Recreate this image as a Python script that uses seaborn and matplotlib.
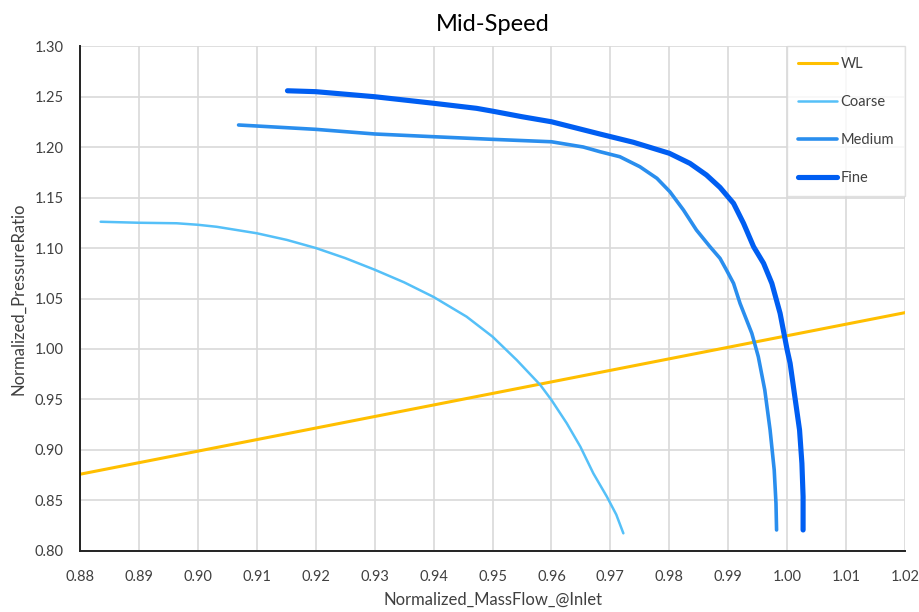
import matplotlib
matplotlib.use("Agg")
import matplotlib.pyplot as plt
import seaborn as sns
import pandas as pd

# Working line
wl_x = [0.880, 1.020]
wl_y = [0.876, 1.036]

# Coarse mesh speedline
coarse_x = [0.8835, 0.890, 0.8964, 0.900, 0.9032, 0.910, 0.9151, 0.920, 0.925,
            0.930, 0.935, 0.940, 0.9456, 0.950, 0.9541, 0.9581, 0.960, 0.9626,
            0.9649, 0.9671, 0.9694, 0.9710, 0.9722]
coarse_y = [1.126, 1.125, 1.1245, 1.123, 1.121, 1.1146, 1.108, 1.100, 1.090,
            1.0785, 1.066, 1.0515, 1.032, 1.0122, 0.9891, 0.9644, 0.9495,
            0.9264, 0.9033, 0.8769, 0.8538, 0.836, 0.8175]

# Medium mesh speedline
medium_x = [0.9069, 0.910, 0.920, 0.930, 0.940, 0.950, 0.960, 0.9654, 0.9682,
            0.9716, 0.975, 0.9779, 0.9801, 0.9824, 0.9846, 0.9869, 0.9886,
            0.9897, 0.9909, 0.992, 0.9940, 0.9951, 0.9962, 0.9971, 0.9978,
            0.9981, 0.9982]
medium_y = [1.2218, 1.2208, 1.2175, 1.2129, 1.2102, 1.2076, 1.2052, 1.2000,
            1.1954, 1.1904, 1.1805, 1.169, 1.1557, 1.1376, 1.1178, 1.1013,
            1.0898, 1.0782, 1.065, 1.0452, 1.0155, 0.9924, 0.9594, 0.9198,
            0.8802, 0.8472, 0.8208]

# Fine mesh speedline
fine_x = [0.9152, 0.920, 0.930, 0.940, 0.9473, 0.950, 0.955, 0.960, 0.9682,
          0.9739, 0.980, 0.9835, 0.9863, 0.9886, 0.9909, 0.9926, 0.9943,
          0.9960, 0.9974, 0.9988, 1.0000, 1.0005, 1.0013, 1.0021, 1.0025,
          1.0027, 1.0027]
fine_y = [1.2557, 1.2548, 1.2498, 1.2433, 1.2383, 1.2355, 1.230, 1.225, 1.2129,
          1.2047, 1.1938, 1.1838, 1.1723, 1.160, 1.1442, 1.1244, 1.1013,
          1.0848, 1.065, 1.0353, 0.999, 0.9858, 0.9528, 0.9198, 0.8868,
          0.8538, 0.8208]

x_ticks = [0.88, 0.89, 0.90, 0.91, 0.92, 0.93, 0.94, 0.95, 0.96, 0.97, 0.98,
           0.99, 1.00, 1.01, 1.02]
y_ticks = [0.80, 0.85, 0.90, 0.95, 1.00, 1.05, 1.10, 1.15, 1.20, 1.25, 1.30]

sns.set_theme(style="white")
plt.rcParams["font.family"] = ["Lato", "DejaVu Sans"]

series = [
    ("WL", wl_x, wl_y, "#FFBF00", 2.2),
    ("Coarse", coarse_x, coarse_y, "#55C0F8", 1.8),
    ("Medium", medium_x, medium_y, "#2A8EEE", 2.6),
    ("Fine", fine_x, fine_y, "#005EF2", 3.7),
]

fig = plt.figure(figsize=(9.19, 6.12), dpi=100)
ax = fig.add_axes([0.0871, 0.0997, 0.8977, 0.8251])

for name, xs, ys, color, lw in series:
    df = pd.DataFrame({"x": xs, "y": ys})
    sns.lineplot(data=df, x="x", y="y", ax=ax, sort=False, estimator=None,
                 color=color, linewidth=lw, label=name,
                 solid_capstyle="round", solid_joinstyle="round")

ax.set_xlim(0.88, 1.02)
ax.set_ylim(0.80, 1.30)
ax.set_xticks(x_ticks)
ax.set_xticklabels([f"{v:.2f}" for v in x_ticks])
ax.set_yticks(y_ticks)
ax.set_yticklabels([f"{v:.2f}" for v in y_ticks])
ax.tick_params(axis="both", length=0, labelsize=10.5, colors="#404040")
ax.tick_params(axis="x", pad=14)
ax.tick_params(axis="y", pad=12)

ax.grid(True, color="#D9D9D9", linewidth=1.2)
ax.set_axisbelow(True)
for side in ("top", "right"):
    ax.spines[side].set_visible(False)
for side in ("left", "bottom"):
    ax.spines[side].set_color("#222222")
    ax.spines[side].set_linewidth(1.4)

ax.set_xlabel("Normalized_MassFlow_@Inlet", fontsize=12, color="#404040", labelpad=5)
ax.set_ylabel("Normalized_PressureRatio", fontsize=12, color="#404040", labelpad=6)
ax.set_title("Mid-Speed", fontsize=17, color="#000000", pad=11)

leg = ax.legend(loc="upper right", bbox_to_anchor=(1.0, 1.0), borderaxespad=0,
                frameon=True, fancybox=False, fontsize=10.5, labelspacing=1.65,
                handlelength=2.7, handletextpad=0.25, borderpad=0.75)
leg.get_frame().set_edgecolor("#D9D9D9")
leg.get_frame().set_linewidth(1.0)
for t in leg.get_texts():
    t.set_color("#404040")

fig.savefig("out.png", dpi=100, facecolor="white")
